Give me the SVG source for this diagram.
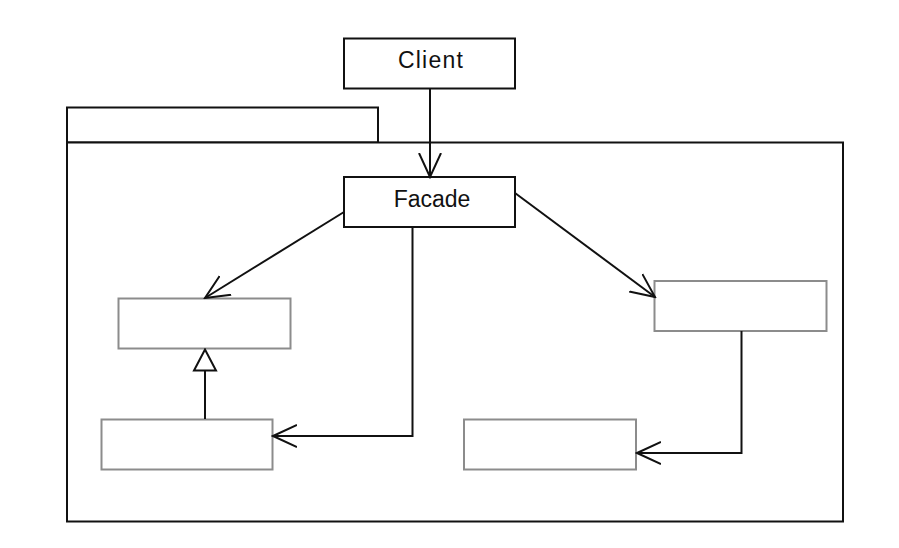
<svg xmlns="http://www.w3.org/2000/svg" width="899" height="548" viewBox="0 0 899 548">
  <style>
    .pkg { fill: #fff; stroke: #111; stroke-width: 2; }
    .main { fill: #fff; stroke: #111; stroke-width: 2; }
    .sub { fill: #fff; stroke: #8c8c8c; stroke-width: 2; }
    .label { font-family: "Liberation Sans", Arial, sans-serif; font-size: 23px; fill: #111; text-anchor: middle; }
    .edge { fill: none; stroke: #111; stroke-width: 2; }
  </style>
  <defs>
    <marker id="open" viewBox="0 0 26 26" refX="24" refY="13" markerWidth="26" markerHeight="26" markerUnits="userSpaceOnUse" orient="auto">
      <path d="M0,2 L24,13 L0,24" fill="none" stroke="#111" stroke-width="2"/>
    </marker>
    <marker id="gen" viewBox="0 0 24 26" refX="22" refY="13" markerWidth="24" markerHeight="26" markerUnits="userSpaceOnUse" orient="auto">
      <path d="M1,2 L22,13 L1,24 Z" fill="#fff" stroke="#111" stroke-width="2"/>
    </marker>
  </defs>

  <!-- subsystem package -->
  <g id="package">
    <rect class="pkg" x="67" y="107.5" width="311" height="35"/>
    <rect class="pkg" x="67" y="142.5" width="776" height="379"/>
  </g>

  <g id="client">
    <rect class="main" x="344" y="38.5" width="171" height="50"/>
    <text class="label" x="431" y="67.5" letter-spacing="1.2">Client</text>
  </g>

  <g id="facade">
    <rect class="main" x="344" y="177" width="171" height="50"/>
    <text class="label" x="432" y="207">Facade</text>
  </g>

  <g id="class-a"><rect class="sub" x="118.5" y="298.5" width="172" height="50"/></g>
  <g id="class-b"><rect class="sub" x="101.5" y="419.5" width="171" height="50"/></g>
  <g id="class-c"><rect class="sub" x="654.5" y="281" width="172" height="50"/></g>
  <g id="class-d"><rect class="sub" x="464" y="419.5" width="172" height="50"/></g>

  <g id="connectors">
    <path class="edge" d="M430,88.5 L430,177" marker-end="url(#open)"/>
    <path class="edge" d="M344,212 L205,298" marker-end="url(#open)"/>
    <path class="edge" d="M412.5,227 L412.5,436 L273,436" marker-end="url(#open)"/>
    <path class="edge" d="M515,193 L655,297" marker-end="url(#open)"/>
    <path class="edge" d="M741.5,331 L741.5,453 L637,453" marker-end="url(#open)"/>
    <path class="edge" d="M205,419 L205,349.5" marker-end="url(#gen)"/>
  </g>
</svg>
